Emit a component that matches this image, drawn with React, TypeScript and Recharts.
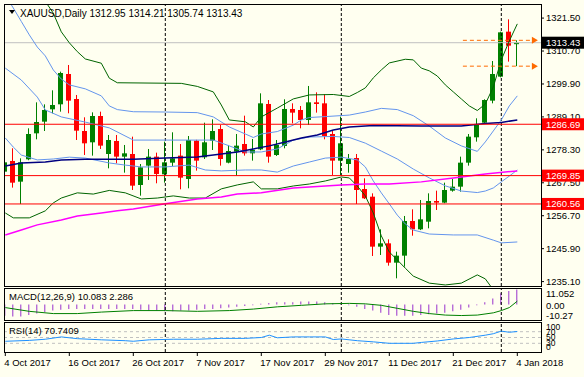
import React from "react";
import {
  ComposedChart,
  Bar,
  Line,
  XAxis,
  YAxis,
  ReferenceLine,
  ReferenceDot,
} from "recharts";

// daily bars, 4 Oct 2017 .. 4 Jan 2018
const dates = [
  "4 Oct 2017", "5 Oct 2017", "6 Oct 2017", "9 Oct 2017", "10 Oct 2017", "11 Oct 2017", "12 Oct 2017", "13 Oct 2017",
  "16 Oct 2017", "17 Oct 2017", "18 Oct 2017", "19 Oct 2017", "20 Oct 2017", "23 Oct 2017", "24 Oct 2017", "25 Oct 2017",
  "26 Oct 2017", "27 Oct 2017", "30 Oct 2017", "31 Oct 2017", "1 Nov 2017", "2 Nov 2017", "3 Nov 2017", "6 Nov 2017",
  "7 Nov 2017", "8 Nov 2017", "9 Nov 2017", "10 Nov 2017", "13 Nov 2017", "14 Nov 2017", "15 Nov 2017", "16 Nov 2017",
  "17 Nov 2017", "20 Nov 2017", "21 Nov 2017", "22 Nov 2017", "23 Nov 2017", "24 Nov 2017", "27 Nov 2017", "28 Nov 2017",
  "29 Nov 2017", "30 Nov 2017", "1 Dec 2017", "4 Dec 2017", "5 Dec 2017", "6 Dec 2017", "7 Dec 2017", "8 Dec 2017",
  "11 Dec 2017", "12 Dec 2017", "13 Dec 2017", "14 Dec 2017", "15 Dec 2017", "18 Dec 2017", "19 Dec 2017", "20 Dec 2017",
  "21 Dec 2017", "22 Dec 2017", "26 Dec 2017", "27 Dec 2017", "28 Dec 2017", "29 Dec 2017", "2 Jan 2018", "3 Jan 2018",
  "4 Jan 2018",
];

const open = [
  1271.15, 1274.65, 1267.87, 1275.2, 1283.72, 1287.54, 1291.59, 1293.23, 1303.17, 1294.97, 1284.48, 1280.77, 1289.4,
  1276.94, 1281.21, 1276.07, 1276.94, 1266.78, 1273.12, 1276.07, 1270.28, 1274.1, 1276.4, 1268.75, 1281.3, 1275.85,
  1281.31, 1285.14, 1274.1, 1277.71, 1280.22, 1277.16, 1278.47, 1293.34, 1276.61, 1279.57, 1291.7, 1291.37, 1288.09,
  1293.88, 1293.55, 1283.5, 1274.76, 1273.66, 1275.63, 1265.46, 1262.95, 1246.56, 1247.65, 1241.31, 1243.61, 1254.97,
  1252.24, 1254.75, 1261.53, 1260.99, 1264.92, 1266.23, 1274.1, 1282.41, 1287.21, 1294.43, 1302.3, 1317.05, 1312.95,
];
const high = [
  1276.07, 1278.81, 1275.52, 1285.36, 1293.88, 1293.22, 1297.82, 1303.94, 1306.12, 1296.29, 1288.97, 1290.6, 1290.82,
  1283.17, 1283.17, 1279.9, 1282.63, 1273.66, 1278.58, 1277.38, 1280.99, 1284.05, 1280.22, 1282.84, 1281.6, 1287.21,
  1288.31, 1286.45, 1279.9, 1283.5, 1289.51, 1281.86, 1296.83, 1294.64, 1281.53, 1294.87, 1293.55, 1292.68, 1299.24,
  1297.16, 1296.5, 1284.81, 1289.18, 1276.94, 1276.94, 1268.96, 1264.04, 1252.24, 1248.96, 1244.92, 1256.62, 1258.8,
  1261.86, 1264.04, 1264.92, 1267.54, 1268.75, 1276.07, 1283.5, 1288.64, 1294.87, 1307.43, 1317.05, 1321.09, 1314.21,
];
const low = [
  1270.61, 1265.91, 1260.55, 1274.9, 1281.75, 1284.48, 1290.28, 1290.82, 1290.28, 1281.53, 1276.61, 1276.4, 1278.58,
  1272.24, 1273.88, 1270.82, 1265.14, 1263.28, 1268.42, 1267.33, 1267.54, 1273.01, 1265.36, 1265.69, 1271.48, 1275.3,
  1278.25, 1273.12, 1273.88, 1269.84, 1276.4, 1274.76, 1278.2, 1274.1, 1276.29, 1278.8, 1287.0, 1285.36, 1286.45,
  1290.5, 1281.75, 1270.06, 1270.06, 1270.82, 1260.55, 1262.19, 1243.5, 1243.83, 1240.33, 1236.18, 1240.0, 1250.16,
  1252.0, 1252.57, 1258.58, 1260.8, 1264.59, 1264.59, 1273.12, 1280.99, 1286.78, 1293.55, 1302.08, 1307.22, 1305.74,
];
const close = [
  1274.21, 1267.54, 1274.21, 1283.5, 1287.43, 1291.37, 1293.01, 1303.5, 1294.43, 1284.59, 1280.44, 1289.4, 1279.68,
  1281.53, 1276.07, 1277.16, 1266.56, 1272.57, 1276.07, 1270.39, 1274.21, 1275.52, 1269.18, 1281.53, 1274.76, 1280.77,
  1284.48, 1275.3, 1277.93, 1279.68, 1277.16, 1278.25, 1293.55, 1276.07, 1279.9, 1291.7, 1290.5, 1288.09, 1293.88,
  1293.34, 1282.84, 1274.76, 1280.44, 1275.3, 1265.14, 1262.41, 1246.56, 1247.65, 1241.31, 1243.61, 1254.97, 1252.24,
  1255.52, 1261.53, 1260.99, 1265.14, 1266.23, 1274.1, 1282.63, 1286.45, 1294.64, 1303.17, 1316.83, 1312.46, 1313.43,
];

// indicator lines at [bar, value]
const bandOuterUp: [number, number][] = [
  [0, 1352], [3, 1338], [5, 1327], [6, 1323.1], [7, 1317.0], [8, 1313.4], [9, 1310.5], [10, 1308.1], [12, 1306.7],
  [13, 1301.8], [14, 1300.3], [22, 1300.1], [24, 1299.1], [26, 1297.3], [27, 1293.0], [28, 1288.1], [30, 1287.5],
  [31, 1285.8], [32, 1289.1], [34, 1292.0], [36, 1295.0], [38, 1296.3], [41, 1296.45], [43, 1295.8], [44, 1297.1],
  [45, 1298.6], [46, 1301.9], [47, 1304.5], [48, 1306.8], [50, 1308.0], [51, 1307.8], [52, 1305.1], [53, 1304.2],
  [54, 1302.5], [55, 1299.6], [56, 1297.3], [57, 1295.0], [58, 1292.7], [59, 1291.2], [60, 1293.3], [61, 1298.9],
  [62, 1307.8], [63, 1314.0], [64, 1319.6],
];
const bandUp: [number, number][] = [
  [0, 1329], [1, 1324.8], [2, 1320.4], [3, 1316.0], [4, 1312.0], [5, 1309.1], [6, 1304.5], [7, 1301.5], [8, 1299.6],
  [10, 1298.3], [12, 1296.0], [13, 1292.7], [14, 1291.5], [16, 1290.8], [20, 1290.7], [24, 1290.5], [26, 1289.1],
  [28, 1285.8], [30, 1283.5], [31, 1282.35], [32, 1283.5], [34, 1284.3], [36, 1286.4], [37, 1288.1], [38, 1288.9],
  [40, 1289.2], [43, 1289.7], [45, 1290.7], [47, 1291.9], [49, 1291.5], [51, 1289.5], [53, 1286.1], [55, 1282.2],
  [57, 1279.6], [59, 1277.8], [60, 1280.9], [61, 1284.5], [62, 1288.1], [63, 1292.7], [64, 1296.0],
];
const bandMid: [number, number][] = [
  [0, 1305.1], [2, 1301.2], [4, 1295.6], [5, 1291.4], [7, 1289.1], [10, 1287.4], [13, 1285.5], [16, 1281.5],
  [26, 1281.5], [28, 1279.6], [30, 1277.6], [32, 1277.6], [34, 1278.6], [36, 1281.5], [38, 1282.5], [41, 1282.7],
  [43, 1282.35], [45, 1280.5], [47, 1277.9], [49, 1275.3], [51, 1272.0], [53, 1269.1], [55, 1266.5], [57, 1264.8],
  [59, 1264.3], [60, 1264.8], [61, 1265.8], [62, 1267.8], [63, 1269.7], [64, 1271.7],
];
const bandLow: [number, number][] = [
  [0, 1282.2], [1, 1279.2], [2, 1276.6], [4, 1275.0], [6, 1275.3], [8, 1275.9], [10, 1275.6], [13, 1274.0],
  [15, 1273.3], [17, 1272.7], [20, 1272.7], [23, 1273.3], [25, 1271.7], [27, 1271.4], [30, 1271.7], [32, 1271.7],
  [34, 1271.0], [36, 1273.0], [38, 1274.3], [40, 1275.6], [42, 1275.9], [44, 1275.0], [45, 1272.7], [46, 1268.1],
  [47, 1264.2], [48, 1260.6], [49, 1256.9], [50, 1254.0], [51, 1252.0], [53, 1250.7], [56, 1250.4], [59, 1250.4],
  [61, 1248.7], [62, 1247.8], [64, 1248.1],
];
const bandOuterLow: [number, number][] = [
  [0, 1257.6], [1, 1256.0], [3, 1256.0], [5, 1258.3], [6, 1260.9], [7, 1262.5], [9, 1264.2], [11, 1263.8],
  [13, 1265.0], [15, 1264.2], [17, 1262.2], [19, 1262.5], [21, 1263.2], [23, 1262.5], [25, 1262.5], [27, 1265.5],
  [29, 1266.8], [31, 1267.8], [32, 1265.5], [34, 1265.5], [36, 1266.45], [38, 1267.1], [40, 1268.1], [42, 1269.4],
  [43, 1269.1], [44, 1266.45], [45, 1263.2], [46, 1257.6], [47, 1250.1], [48, 1244.8], [49, 1242.2], [50, 1239.5],
  [51, 1236.9], [53, 1234.6], [55, 1234.0], [57, 1234.6], [59, 1237.3], [60, 1236.0], [61, 1232.4], [62, 1227.5],
  [64, 1222.5],
];
const maSlow: [number, number][] = [
  [0, 1273.0], [2, 1274.0], [5, 1274.3], [7, 1275.0], [10, 1275.2], [16, 1275.2], [20, 1275.6], [24, 1275.96],
  [27, 1276.9], [29, 1277.6], [31, 1278.6], [33, 1279.6], [35, 1280.9], [37, 1282.2], [39, 1283.2], [41, 1284.8],
  [43, 1285.8], [46, 1286.3], [52, 1286.1], [57, 1286.1], [60, 1286.9], [62, 1287.3], [64, 1288.1],
];
const maLong: [number, number][] = [
  [0, 1250.4], [2, 1252.0], [4, 1253.7], [7, 1255.3], [9, 1256.6], [12, 1257.6], [14, 1258.3], [16, 1258.9],
  [20, 1260.6], [24, 1262.2], [27, 1262.85], [29, 1263.8], [32, 1264.2], [36, 1265.8], [38, 1266.1], [42, 1266.8],
  [45, 1267.1], [48, 1267.1], [52, 1267.8], [56, 1269.1], [60, 1270.4], [64, 1271.4],
];

const macdHist = [
  -7.5, -8, -8, -7, -6, -5, -4, -3.5, -3, -3, -3, -3, -3, -3, -3, -3, -3, -3.5, -4, -4, -4.5, -4.5, -4, -4, -3.5, -3,
  -3, -2.5, -2, -1.5, -1, -0.5, 0.5, 1, 1.5, 1.5, 1.5, 2, 2, 2, 1.5, 1, 0.5, -0.5, -1.5, -3, -4, -5.5, -7, -7.5, -7.5,
  -7.5, -7, -6.5, -6, -5.5, -4.5, -3.5, -2, -0.5, 1.5, 4, 7.5, 9, 10.083,
];
const macdSignal: [number, number][] = [
  [0, -2], [3, -4.5], [6, -6], [9, -6], [12, -5], [16, -4], [20, -4], [24, -4.5], [28, -4], [31, -3], [34, -1.5],
  [37, -0.5], [40, 0.5], [43, 0.8], [45, 0.5], [47, -0.5], [49, -2.5], [51, -4.5], [53, -6], [55, -7], [57, -7.3],
  [59, -7], [61, -5.5], [62, -4], [63, -2], [64, 2.286],
];
const rsi: [number, number][] = [
  [0, 37], [3, 40], [5, 44], [7, 52], [9, 46], [12, 42], [15, 39], [16, 37], [18, 42], [21, 44], [24, 44], [27, 47],
  [30, 47], [32, 50], [33, 58], [34, 49], [36, 52], [38, 52], [40, 52], [41, 43], [42, 45], [44, 39], [46, 35],
  [48, 30], [51, 30], [52, 33], [54, 38], [56, 45], [58, 50], [60, 58], [61, 63], [62, 72], [63, 68], [64, 70.74],
];

const priceTicks = [1321.5, 1310.7, 1299.9, 1289.1, 1278.3, 1267.5, 1256.7, 1245.9, 1235.1];
const levels = [1286.69, 1269.85, 1260.56];
const bid = 1313.43;
const dayHigh = 1314.21;
const dayLow = 1305.74;
const separators = [20, 42, 62];
const dateTicks = [0, 8, 16, 24, 32, 40, 48, 56, 64];

const FONT = "'Liberation Sans', Arial, sans-serif";
const BG = "#FFFFF0";
const X_DOMAIN: [number, number] = [-0.1625, 66.9625];

const place = (pairs: [number, number][]) => {
  const out: (number | null)[] = dates.map(() => null);
  pairs.forEach(([i, v]) => (out[i] = v));
  return out;
};

const cols = {
  bandOuterUp: place(bandOuterUp),
  bandUp: place(bandUp),
  bandMid: place(bandMid),
  bandLow: place(bandLow),
  bandOuterLow: place(bandOuterLow),
  maSlow: place(maSlow),
  maLong: place(maLong),
  signal: place(macdSignal),
  rsi: place(rsi),
};

const rows = dates.map((d, i) => ({
  i,
  date: d,
  open: open[i],
  high: high[i],
  low: low[i],
  close: close[i],
  range: [low[i], high[i]],
  bandOuterUp: cols.bandOuterUp[i],
  bandUp: cols.bandUp[i],
  bandMid: cols.bandMid[i],
  bandLow: cols.bandLow[i],
  bandOuterLow: cols.bandOuterLow[i],
  maSlow: cols.maSlow[i],
  maLong: cols.maLong[i],
  macd: macdHist[i],
  signal: cols.signal[i],
  rsi: cols.rsi[i],
}));

const Candle = (props: any) => {
  const { x, y, width, height, payload } = props;
  if (x == null || payload == null) return null;
  const top = Math.min(y, y + height);
  const h = Math.abs(height);
  const k = h / (payload.high - payload.low || 1);
  const up = payload.close >= payload.open;
  const color = up ? "#008000" : "#FF0000";
  const cx = Math.floor(x + width / 2) + 0.5;
  const bTop = top + (payload.high - Math.max(payload.open, payload.close)) * k;
  const bBot = top + (payload.high - Math.min(payload.open, payload.close)) * k;
  return (
    <g>
      <line x1={cx} x2={cx} y1={top} y2={top + h} stroke={color} strokeWidth={1} />
      <rect x={cx - 2.5} y={bTop} width={5} height={Math.max(1, bBot - bTop)} fill={color} />
    </g>
  );
};

const PriceTick = (props: any) => {
  const { y, payload } = props;
  const v = payload.value;
  const boxed = v === bid || levels.includes(v);
  if (boxed) {
    const fill = v === bid ? "#000000" : "#FF0000";
    return (
      <g>
        <rect x={541} y={y - 6} width={43} height={12} fill={fill} />
        <text x={546} y={y} dy="0.35em" fontSize={9.5} fontFamily={FONT} fill="#FFFFFF">
          {v.toFixed(2)}
        </text>
      </g>
    );
  }
  return (
    <g>
      <line x1={541} x2={544} y1={y} y2={y} stroke="#000" />
      <text x={546} y={y} dy="0.35em" fontSize={9.5} fontFamily={FONT} fill="#000">
        {v.toFixed(2)}
      </text>
    </g>
  );
};

const Arrow = (props: any) => {
  const { cx, cy } = props;
  if (cx == null) return null;
  return <path d={`M${cx - 3},${cy - 3.5} L${cx + 3},${cy} L${cx - 3},${cy + 3.5} Z`} fill="#FF6A00" />;
};

const MacdTick = (props: any) => {
  const { y, payload } = props;
  const v = payload.value;
  const label = v === 0 ? "0.00" : String(v);
  const off = v > 0 ? 6 : v < 0 ? -4 : 1;
  return (
    <text x={546} y={y + off} dy="0.35em" fontSize={9.5} fontFamily={FONT} fill="#000">
      {label}
    </text>
  );
};

// the RSI scale labels sit on top of each other in the source as well
const RsiTick = (props: any) => {
  const { y, payload } = props;
  const v = payload.value;
  const off = v === 100 ? 4 : v === 0 ? -5 : 0;
  return (
    <text x={546} y={y + off} dy="0.35em" fontSize={8.5} fontFamily={FONT} fill="#000">
      {v}
    </text>
  );
};

const DateTick = (props: any) => {
  const { x, y, payload } = props;
  return (
    <text x={x - 1} y={y} dy="0.71em" textAnchor="start" fontSize={9.5} fontFamily={FONT} fill="#000">
      {dates[payload.value]}
    </text>
  );
};

const line = (key: string, color: string, w = 1) => (
  <Line
    key={key}
    dataKey={key}
    type="linear"
    stroke={color}
    strokeWidth={w}
    dot={false}
    activeDot={false}
    connectNulls
    isAnimationActive={false}
  />
);

const separatorLines = separators.map((s) => (
  <ReferenceLine key={s} x={s} stroke="#000" strokeDasharray="3 2" />
));

export default function App() {
  return (
    <div style={{ position: "absolute", left: 0, top: 0, width: 584, height: 377, background: BG, overflow: "hidden" }}>
      <div style={{ position: "absolute", left: 0, top: 0 }}>
        <ComposedChart width={584} height={290} data={rows} margin={{ top: 4, right: 0, bottom: 4, left: 4 }}>
          <XAxis type="number" dataKey="i" domain={X_DOMAIN} hide allowDataOverflow />
          <YAxis
            orientation="right"
            width={43}
            domain={[1233.66, 1326.12]}
            allowDataOverflow
            ticks={[...priceTicks, bid, ...levels]}
            interval={0}
            tick={<PriceTick />}
            tickLine={false}
            axisLine={false}
          />
          <ReferenceLine y={bid} stroke="#C0C0C0" />
          {separatorLines}
          <Bar dataKey="range" shape={<Candle />} barSize={5} isAnimationActive={false} />
          {line("bandOuterUp", "#006400")}
          {line("bandOuterLow", "#006400")}
          {line("bandUp", "#6495ED")}
          {line("bandMid", "#6495ED")}
          {line("bandLow", "#6495ED")}
          {line("maLong", "#FF00FF", 1.5)}
          {line("maSlow", "#000080", 1.5)}
          {levels.map((l) => (
            <ReferenceLine key={l} y={l} stroke="#FF0000" />
          ))}
          {[dayHigh, dayLow].map((l) => (
            <ReferenceLine
              key={l}
              segment={[{ x: 57.2, y: l }, { x: 65.7, y: l }]}
              stroke="#FF6A00"
              strokeDasharray="4 3"
            />
          ))}
          {[dayHigh, dayLow].map((l) => (
            <ReferenceDot key={"a" + l} x={66.2} y={l} r={3} shape={<Arrow />} />
          ))}
        </ComposedChart>
      </div>

      <div style={{ position: "absolute", left: 0, top: 284 }}>
        <ComposedChart width={584} height={40} data={rows} margin={{ top: 4, right: 0, bottom: 4, left: 4 }}>
          <XAxis type="number" dataKey="i" domain={X_DOMAIN} hide allowDataOverflow />
          <YAxis
            orientation="right"
            width={43}
            domain={[-10.27, 11.052]}
            allowDataOverflow
            ticks={[11.052, 0, -10.27]}
            interval={0}
            tick={<MacdTick />}
            tickLine={false}
            axisLine={false}
          />
          {separatorLines}
          <Bar dataKey="macd" fill="#9932CC" barSize={1} isAnimationActive={false} />
          {line("signal", "#008000")}
        </ComposedChart>
      </div>

      <div style={{ position: "absolute", left: 0, top: 318 }}>
        <ComposedChart width={584} height={59} data={rows} margin={{ top: 5, right: 0, bottom: 0, left: 4 }}>
          <XAxis
            type="number"
            dataKey="i"
            domain={X_DOMAIN}
            allowDataOverflow
            ticks={dateTicks}
            interval={0}
            height={25}
            tick={<DateTick />}
            tickSize={4}
            tickMargin={3}
            tickLine={{ stroke: "#000" }}
            axisLine={false}
          />
          <YAxis
            orientation="right"
            width={43}
            domain={[0, 100]}
            ticks={[100, 70, 50, 30, 0]}
            interval={0}
            tick={<RsiTick />}
            tickLine={false}
            axisLine={false}
          />
          {[70, 50, 30].map((v) => (
            <ReferenceLine key={v} y={v} stroke="#C0C0C0" strokeDasharray="3 3" />
          ))}
          {separatorLines}
          {line("rsi", "#1E90FF")}
        </ComposedChart>
      </div>

      <svg width={584} height={377} style={{ position: "absolute", left: 0, top: 0, pointerEvents: "none" }}>
        <rect x={4.5} y={4.5} width={537} height={282} fill="none" stroke="#000" />
        <rect x={4.5} y={288.5} width={537} height={32} fill="none" stroke="#000" />
        <rect x={4.5} y={322.5} width={537} height={30} fill="none" stroke="#000" />
        <path d="M9,10 L15,10 L12,14 Z" fill="#000" />
        <text x={20} y={13} dy="0.35em" fontSize={10} fontFamily={FONT} fill="#000">
          XAUUSD,Daily 1312.95 1314.21 1305.74 1313.43
        </text>
        <text x={9} y={297} dy="0.35em" fontSize={9.5} fontFamily={FONT} fill="#000">
          MACD(12,26,9) 10.083 2.286
        </text>
        <text x={9} y={331} dy="0.35em" fontSize={9.5} fontFamily={FONT} fill="#000">
          RSI(14) 70.7409
        </text>
      </svg>
    </div>
  );
}
